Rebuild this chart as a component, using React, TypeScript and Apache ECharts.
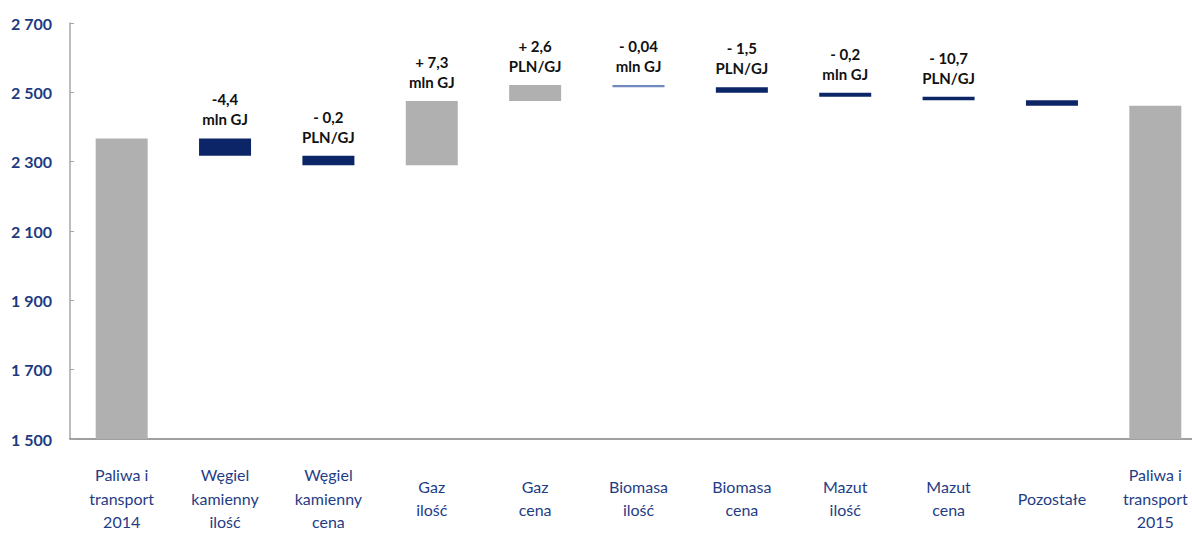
import React, { useEffect, useRef } from "react";
import * as echarts from "echarts";

const categories = [
  "Paliwa i\ntransport\n2014",
  "Węgiel\nkamienny\nilość",
  "Węgiel\nkamienny\ncena",
  "Gaz\nilość",
  "Gaz\ncena",
  "Biomasa\nilość",
  "Biomasa\ncena",
  "Mazut\nilość",
  "Mazut\ncena",
  "Pozostałe",
  "Paliwa i\ntransport\n2015",
];

const startTotal = 2367;
const deltas = [-50, -27, 185, 46, -6, -16, -12, -10, -16];
const endTotal = 2461;

const barLabels = [
  "",
  "-4,4\nmln GJ",
  "- 0,2\nPLN/GJ",
  "+ 7,3\nmln GJ",
  "+ 2,6\nPLN/GJ",
  "- 0,04\nmln GJ",
  "- 1,5\nPLN/GJ",
  "- 0,2\nmln GJ",
  "- 10,7\nPLN/GJ",
  "",
  "",
];

const yMin = 1500;
const yMax = 2700;
const yStep = 200;

export default function App() {
  const ref = useRef<HTMLDivElement>(null);

  useEffect(() => {
    if (!ref.current) return;
    const chart = echarts.init(ref.current, null, { renderer: "svg" });

    const base: number[] = [0];
    const visible: number[] = [startTotal];
    const kind: string[] = ["total"];
    let running = startTotal;
    deltas.forEach((d) => {
      const next = running + d;
      base.push(Math.min(running, next));
      visible.push(Math.abs(d));
      kind.push(d >= 0 ? "up" : "down");
      running = next;
    });
    base.push(0);
    visible.push(endTotal);
    kind.push("total");

    const GRAY = "#B0B0B0";
    const BLUE = "#0B2566";
    const THIN = "#7088BC";

    chart.setOption({
      animation: false,
      grid: { left: 70, right: 13, top: 23, bottom: 97, containLabel: false },
      xAxis: {
        type: "category",
        data: categories,
        axisLine: { lineStyle: { color: "#808080", width: 1.5 } },
        axisTick: { show: false },
        axisLabel: {
          interval: 0,
          color: "#1F3D85",
          fontFamily: "Lato",
          fontSize: 16,
          lineHeight: 23.5,
          margin: 59,
          verticalAlign: "middle",
        },
      },
      yAxis: {
        type: "value",
        min: yMin,
        max: yMax,
        interval: yStep,
        splitLine: { show: false },
        axisLine: { show: true, lineStyle: { color: "#A6A6A6", width: 1.5 } },
        axisTick: { show: true, inside: true, length: 4, lineStyle: { color: "#A6A6A6" } },
        axisLabel: {
          color: "#1B3A80",
          fontFamily: "Lato",
          fontWeight: "bold",
          fontSize: 16,
          margin: 18,
          formatter: (v: number) => String(v).replace(/\B(?=(\d{3})+(?!\d))/g, " "),
        },
      },
      series: [
        {
          type: "bar",
          stack: "w",
          barWidth: 52,
          itemStyle: { color: "transparent" },
          emphasis: { disabled: true },
          data: base,
        },
        {
          type: "bar",
          stack: "w",
          barWidth: 52,
          data: visible.map((v, i) => ({
            value: v,
            itemStyle: {
              color: i === 5 ? THIN : kind[i] === "down" ? BLUE : GRAY,
            },
          })),
          label: {
            show: true,
            position: "top",
            distance: 9,
            color: "#111",
            fontFamily: "Lato",
            fontWeight: "bold",
            fontSize: 15,
            lineHeight: 20,
            formatter: (p: any) => barLabels[p.dataIndex],
          },
        },
      ],
    });

    return () => chart.dispose();
  }, []);

  return (
    <div style={{ position: "fixed", left: 0, top: 0, width: 1192, height: 536, overflow: "hidden", background: "#fff" }}>
      <div ref={ref} style={{ width: 1220, height: 536 }} />
    </div>
  );
}
